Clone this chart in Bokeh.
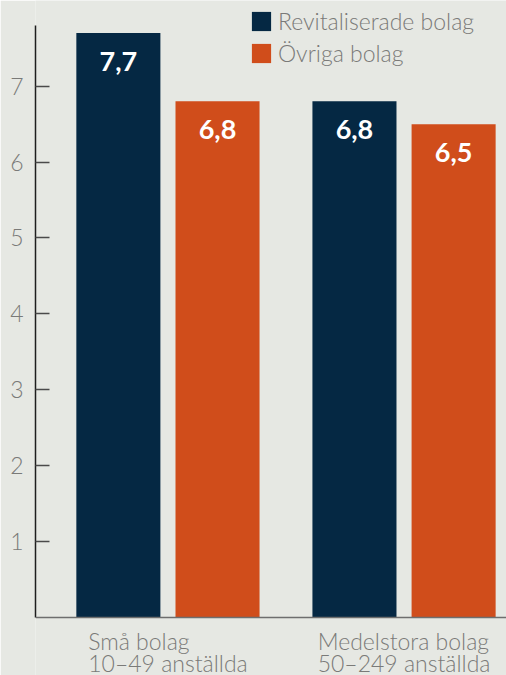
from bokeh.plotting import figure
from bokeh.models import (Range1d, FixedTicker, Legend, LegendItem,
                          ColumnDataSource, LabelSet, Span)
from bokeh.core.properties import value
from bokeh.embed import file_html
from bokeh.resources import INLINE

# Data
groups = ["Små bolag\n10–49 anställda", "Medelstora bolag\n50–249 anställda"]
series = ["Revitaliserade bolag", "Övriga bolag"]
revitaliserade = [7.7, 6.8]
ovriga = [6.8, 6.5]
y_ticks = [1, 2, 3, 4, 5, 6, 7]

NAVY = "#052843"
ORANGE = "#d04d1b"
BG = "#e6e8e3"
GREY = "#7a7a78"
LIGHT_FONT = "Lato Light"
BOLD_FONT = "Lato"

def fmt(v):
    return f"{v:.1f}".replace(".", ",")

group_pos = list(range(len(groups)))
offset = 0.21
bar_w = 0.356

src_a = ColumnDataSource(dict(x=[g - offset for g in group_pos], top=revitaliserade,
                              label=[fmt(v) for v in revitaliserade]))
src_b = ColumnDataSource(dict(x=[g + offset for g in group_pos], top=ovriga,
                              label=[fmt(v) for v in ovriga]))

# The frame fills the canvas height; the value axis is bounded to 0..7.8
p = figure(width=506, height=675,
           x_range=Range1d(-0.561, 1.434), y_range=Range1d(-0.764, 8.129),
           output_backend="svg", toolbar_location=None,
           min_border_left=35, min_border_right=0,
           min_border_top=0, min_border_bottom=0)

p.background_fill_color = BG
p.border_fill_color = BG
p.outline_line_color = None
p.grid.visible = False
p.xaxis.visible = False

r_a = p.vbar(x="x", top="top", width=bar_w, bottom=0, source=src_a,
             fill_color=NAVY, line_color=None)
r_b = p.vbar(x="x", top="top", width=bar_w, bottom=0, source=src_b,
             fill_color=ORANGE, line_color=None)

# Baseline at zero
p.add_layout(Span(location=0, dimension="width", line_color="#6e6e6e",
                  line_width=1.5))

# Values printed inside the top of each bar
for src in (src_a, src_b):
    p.add_layout(LabelSet(x="x", y="top", text="label", source=src,
                          text_align="center", text_baseline="middle",
                          y_offset=-28, text_color="white",
                          text_font=value(BOLD_FONT), text_font_style="bold",
                          text_font_size="27px"))

# Y axis
yax = p.yaxis[0]
yax.bounds = (0, 7.8)
yax.ticker = FixedTicker(ticks=y_ticks)
yax.axis_line_color = "#1e1e1e"
yax.axis_line_width = 1.5
yax.major_tick_in = 14
yax.major_tick_out = 0
yax.major_tick_line_color = "#4a4a4a"
yax.major_tick_line_width = 1.5
yax.minor_tick_line_color = None
yax.major_label_standoff = 12
yax.major_label_text_font = LIGHT_FONT
yax.major_label_text_font_size = "23px"
yax.major_label_text_color = GREY

# Group names under the baseline
grp_src = ColumnDataSource(dict(x=group_pos, y=[0] * len(groups), text=groups))
p.add_layout(LabelSet(x="x", y="y", text="text", source=grp_src,
                      text_align="center", text_baseline="top",
                      y_offset=-9, text_color=GREY,
                      text_font=value(LIGHT_FONT), text_font_size="23px",
                      text_line_height=0.8))

legend = Legend(items=[LegendItem(label=series[0], renderers=[r_a]),
                       LegendItem(label=series[1], renderers=[r_b])],
                location=(214, 608), orientation="vertical",
                glyph_width=24, glyph_height=24, label_height=24,
                label_standoff=5, spacing=4, padding=0, margin=0,
                background_fill_alpha=0, border_line_color=None,
                label_text_font=LIGHT_FONT, label_text_font_size="23px",
                label_text_color=GREY)
p.add_layout(legend)

open("out.html", "w").write(file_html(p, INLINE))
